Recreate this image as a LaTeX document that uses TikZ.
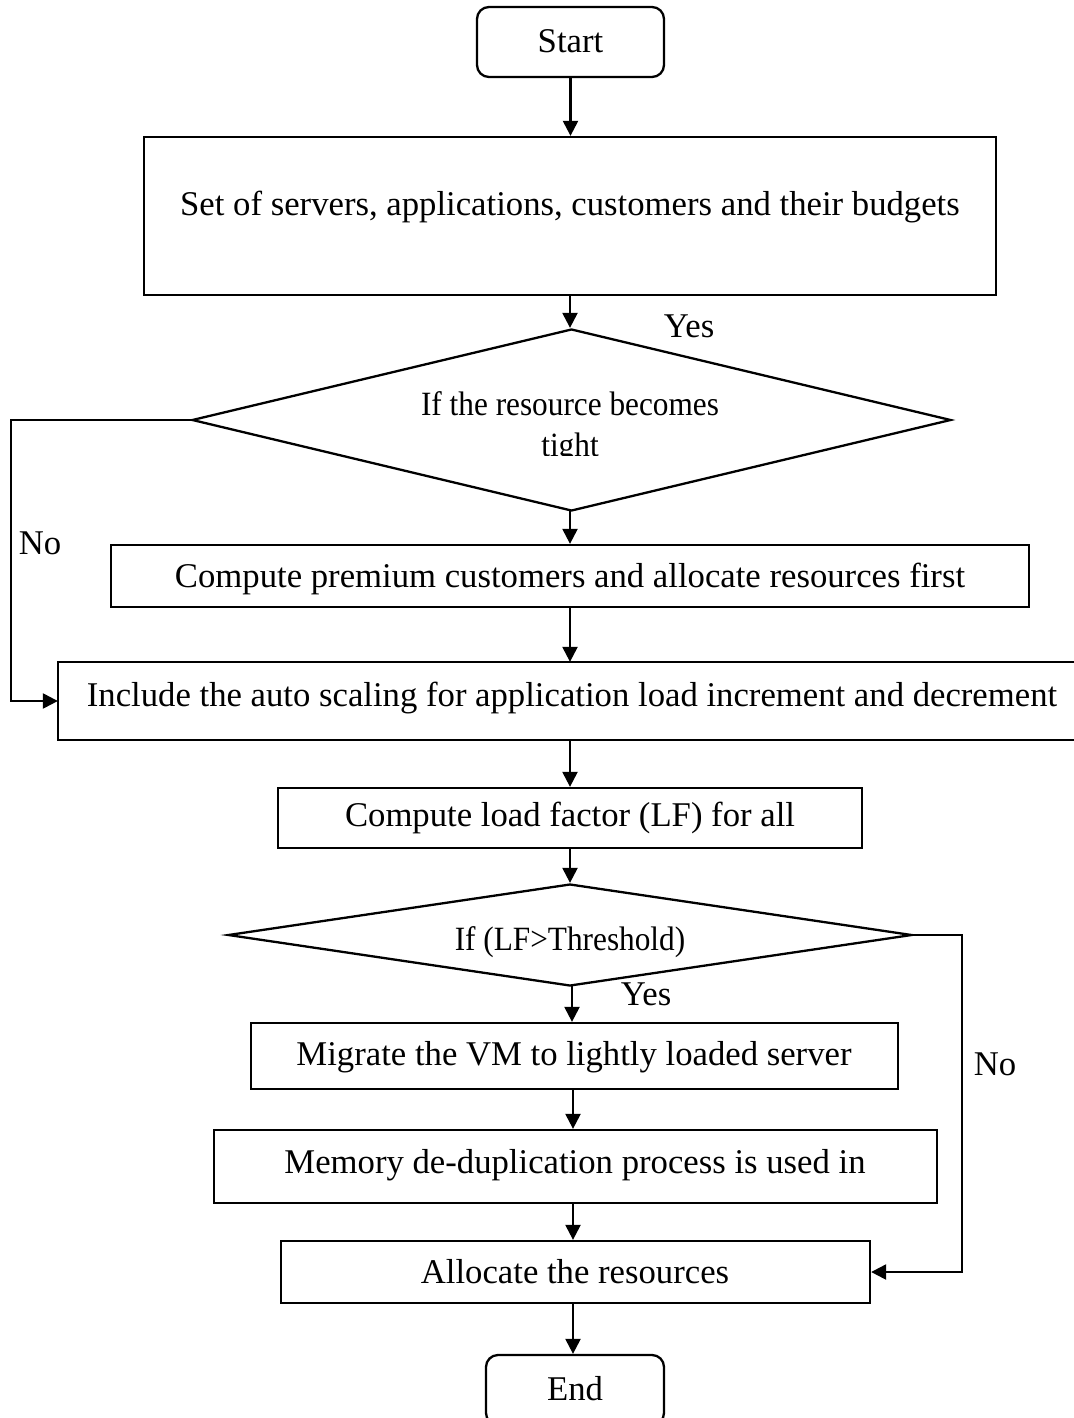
\documentclass[tikz,border=0pt]{standalone}
\usepackage{fontspec}
\setmainfont{Liberation Serif}
\usetikzlibrary{shapes.geometric,arrows.meta}
\begin{document}
\begin{tikzpicture}[x=1pt,y=-1pt,
  line width=2.3pt,
  arr/.style={-{Triangle[length=15pt,width=15pt]}},
  box/.style={draw,rectangle,inner sep=0pt},
  term/.style={draw,rectangle,rounded corners=12pt,inner sep=0pt},
  dia/.style={draw,diamond,inner sep=0pt},
  txt/.style={font=\fontsize{34.7}{40}\selectfont,inner sep=0pt,anchor=base},
  dtxt/.style={font=\fontsize{34}{40}\selectfont,inner sep=0pt,anchor=base},
]
\useasboundingbox (0,0) rectangle (1073,1418);
\fill[white] (0,0) rectangle (1073,1418);
% nodes
\node[term,minimum width=187pt,minimum height=70pt] (start) at (570.5,42) {};
\node[txt] (tstart) at (570.5,53) {Start};
\node[box,minimum width=852pt,minimum height=158pt] (b1) at (570,216) {};
\node[txt] (tb1) at (570,215) {Set of servers, applications, customers and their budgets};
\node[dia,minimum width=759pt,minimum height=182pt] (d1) at (571.5,420) {};
\begin{scope}
\clip (300,370) rectangle (850,455);
\node[dtxt] (td1a) at (570,415) {\scalebox{0.92}[1]{If the resource becomes}};
\node[dtxt] (td1b) at (570,456) {\scalebox{0.92}[1]{tight}};
\end{scope}
\node[txt] (yes1) at (689,337) {Yes};
\coordinate (c1) at (11,420);
\coordinate (c2) at (11,701);
\node[txt] (no1) at (40,554) {No};
\node[box,minimum width=918pt,minimum height=62pt] (b2) at (570,576) {};
\node[txt] (tb2) at (570,587) {Compute premium customers and allocate resources first};
\node[minimum width=1014pt,minimum height=76pt,inner sep=0pt] (b3) at (566,701) {};
\draw (b3.north east) -- (b3.north west) -- (b3.south west) -- (b3.south east);
\node[txt] (tb3) at (572,706) {Include the auto scaling for application load increment and decrement};
\node[box,minimum width=584pt,minimum height=60pt] (b4) at (570,818) {};
\node[txt] (tb4) at (570,826) {Compute load factor (LF) for all};
\node[dia,minimum width=684pt,minimum height=102pt] (d2) at (570,935) {};
\node[dtxt] (td2) at (570,950) {\scalebox{0.92}[1]{If (LF>Threshold)}};
\node[txt] (yes2) at (646,1005) {Yes};
\coordinate (c3) at (962,935);
\coordinate (c4) at (962,1272);
\node[txt] (no2) at (995,1075) {No};
\node[box,minimum width=647pt,minimum height=66pt] (b5) at (574.5,1056) {};
\node[txt] (tb5) at (574,1065) {Migrate the VM to lightly loaded server};
\node[box,minimum width=723pt,minimum height=73pt] (b6) at (575.5,1166.5) {};
\node[txt] (tb6) at (575,1173) {Memory de-duplication process is used in};
\node[box,minimum width=589pt,minimum height=62pt] (b7) at (575.5,1272) {};
\node[txt] (tb7) at (575,1283) {Allocate the resources};
\node[term,minimum width=178pt,minimum height=70pt] (end) at (575,1390) {};
\node[txt] (tend) at (575,1400) {End};
% connectors
\draw[arr] (start.south) -- (start.south |- b1.north);
\draw[arr] (570,295) coordinate (s1) -- (s1 |- d1.north);
\draw[arr] (d1.west) -- (c1) -- (c2) -- (b3.west);
\draw[arr] (570,511) coordinate (s2) -- (s2 |- b2.north);
\draw[arr] (b2.south) -- (b2.south |- b3.north);
\draw[arr] (570,739) coordinate (s3) -- (s3 |- b4.north);
\draw[arr] (b4.south) -- (b4.south |- d2.north);
\draw[arr] (d2.east) -- (c3) -- (c4) -- (b7.east);
\draw[arr] (572,986) coordinate (s4) -- (s4 |- b5.north);
\draw[arr] (573,1089) coordinate (s5) -- (s5 |- b6.north);
\draw[arr] (573,1203) coordinate (s6) -- (s6 |- b7.north);
\draw[arr] (573,1303) coordinate (s7) -- (s7 |- end.north);
\end{tikzpicture}
\end{document}
